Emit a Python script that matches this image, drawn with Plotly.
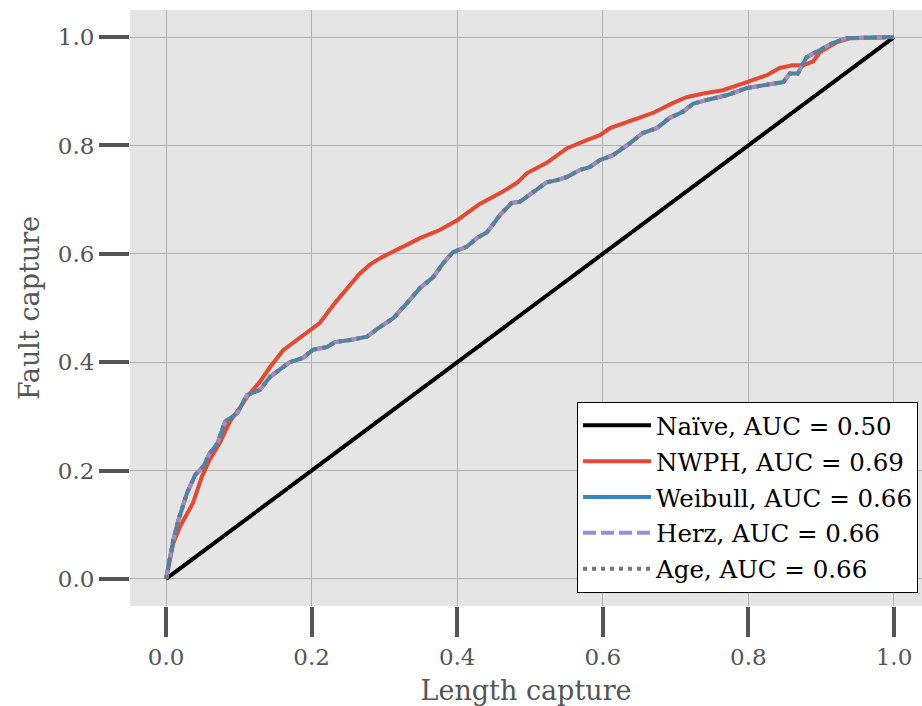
import plotly.graph_objects as go

# Data
naive_x = [0.0, 1.0]
naive_y = [0.0, 1.0]

nwph_x = [0, 0.01, 0.019, 0.037, 0.049, 0.06, 0.074, 0.088, 0.102, 0.113, 0.129, 0.143,
          0.161, 0.18, 0.2, 0.211, 0.23, 0.253, 0.265, 0.28, 0.294, 0.321, 0.349, 0.376,
          0.4, 0.431, 0.459, 0.482, 0.496, 0.523, 0.551, 0.578, 0.596, 0.61, 0.641,
          0.669, 0.696, 0.715, 0.738, 0.765, 0.798, 0.826, 0.843, 0.861, 0.875,
          0.889, 0.898, 0.922, 0.94, 1.0]
nwph_y = [0, 0.066, 0.096, 0.14, 0.188, 0.22, 0.251, 0.291, 0.317, 0.339, 0.364, 0.391,
          0.422, 0.441, 0.459, 0.472, 0.506, 0.542, 0.562, 0.58, 0.592, 0.61, 0.629, 0.644,
          0.662, 0.692, 0.712, 0.731, 0.749, 0.768, 0.795, 0.81, 0.819, 0.832, 0.847,
          0.86, 0.878, 0.889, 0.896, 0.902, 0.917, 0.93, 0.943, 0.948, 0.948,
          0.955, 0.972, 0.991, 0.998, 1.0]

model_x = [0, 0.01, 0.017, 0.029, 0.04, 0.051, 0.06, 0.071, 0.081, 0.098, 0.111, 0.129,
           0.143, 0.17, 0.188, 0.202, 0.221, 0.232, 0.253, 0.276, 0.294, 0.312, 0.331,
           0.349, 0.367, 0.381, 0.394, 0.413, 0.427, 0.441, 0.459, 0.475, 0.486, 0.504,
           0.523, 0.537, 0.551, 0.569, 0.582, 0.596, 0.614, 0.637, 0.655, 0.674, 0.692,
           0.71, 0.724, 0.743, 0.771, 0.798, 0.82, 0.848, 0.857, 0.868, 0.88, 0.898,
           0.916, 0.935, 1.0]
model_y = [0, 0.072, 0.109, 0.159, 0.192, 0.207, 0.232, 0.251, 0.29, 0.306, 0.339, 0.349,
           0.373, 0.4, 0.408, 0.423, 0.428, 0.437, 0.441, 0.447, 0.465, 0.481, 0.509,
           0.537, 0.557, 0.583, 0.603, 0.613, 0.629, 0.64, 0.672, 0.694, 0.696, 0.714,
           0.732, 0.736, 0.742, 0.755, 0.76, 0.773, 0.782, 0.804, 0.823, 0.832, 0.851,
           0.862, 0.877, 0.884, 0.893, 0.906, 0.911, 0.917, 0.933, 0.933, 0.963, 0.976,
           0.989, 0.998, 1.0]

weibull_x, weibull_y = model_x, model_y
herz_x, herz_y = model_x, model_y
age_x, age_y = model_x, model_y

names = ["Naïve, AUC = 0.50", "NWPH, AUC = 0.69", "Weibull, AUC = 0.66",
         "Herz, AUC = 0.66", "Age, AUC = 0.66"]
tick_vals = [0.0, 0.2, 0.4, 0.6, 0.8, 1.0]
tick_text = ["0.0", "0.2", "0.4", "0.6", "0.8", "1.0"]

FONT = "DejaVu Serif"
LW = 4

fig = go.Figure()
series = [
    (naive_x, naive_y, names[0], dict(color="#000000", width=LW)),
    (nwph_x, nwph_y, names[1], dict(color="#E24A33", width=LW)),
    (weibull_x, weibull_y, names[2], dict(color="#348ABD", width=LW)),
    (herz_x, herz_y, names[3], dict(color="#988ED5", width=LW, dash="13px,5px")),
    (age_x, age_y, names[4], dict(color="#777777", width=LW, dash="4px,5px")),
]
for i, (xs, ys, nm, ln) in enumerate(series):
    fig.add_trace(go.Scatter(x=xs, y=ys, mode="lines", name=nm, line=ln,
                             legendgroup=f"g{i}"))

axis_common = dict(
    showgrid=True, gridcolor="#b0b0b0", gridwidth=1.2,
    zeroline=False, showline=False,
    ticks="outside", ticklen=30, tickwidth=4, tickcolor="#555555",
    tickvals=tick_vals, ticktext=tick_text,
    tickfont=dict(family=FONT, size=23, color="#555555"),
)

fig.update_layout(
    width=922, height=706,
    margin=dict(l=130, r=0, t=10, b=100, autoexpand=False),
    paper_bgcolor="white", plot_bgcolor="#E5E5E5",
    font=dict(family=FONT),
    xaxis=dict(range=[-0.0495, 1.0385],
               title=dict(text="Length capture", font=dict(family=FONT, size=27, color="#555555"),
                          standoff=12),
               **axis_common),
    yaxis=dict(range=[-0.05, 1.05],
               title=dict(text="Fault capture", font=dict(family=FONT, size=27, color="#555555"),
                          standoff=10),
               **axis_common),
    legend=dict(x=0.995, y=0.022, xanchor="right", yanchor="bottom",
                bgcolor="white", bordercolor="black", borderwidth=1,
                font=dict(family=FONT, size=24.5, color="black"),
                itemwidth=68,
                traceorder="grouped", tracegroupgap=1),
    showlegend=True,
)

fig.write_html("out.html", config={"displayModeBar": False},
               post_script="document.body.style.margin='0px';document.body.style.overflow='hidden';")
